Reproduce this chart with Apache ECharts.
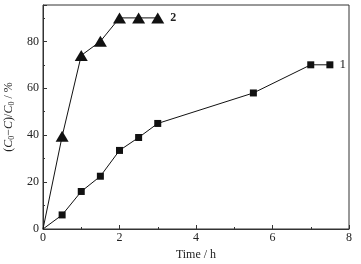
<!DOCTYPE html>
<html>
<head>
<meta charset="utf-8">
<script src="https://cdn.jsdelivr.net/npm/echarts@6/dist/echarts.min.js"></script>
<style>
html,body{margin:0;padding:0;background:#fff}
#chart{width:361px;height:264px}
</style>
</head>
<body>
<div id="chart"></div>
<script>
// curve 1 (squares)
var time1 = [0, 0.5, 1, 1.5, 2, 2.5, 3, 5.5, 7, 7.5];
var conv1 = [0, 6, 16, 22.5, 33.5, 39, 45, 58, 70, 70];
// curve 2 (triangles)
var time2 = [0, 0.5, 1, 1.5, 2, 2.5, 3];
var conv2 = [0, 39.5, 74, 80, 90, 90, 90];
var seriesNames = ['1', '2'];

var font = 'Liberation Serif';
var ink = '#222';

function pairs(xs, ys, name) {
    return xs.map(function (x, i) {
        var p = {value: [x, ys[i]]};
        if (i == 0) {
            p.symbol = 'none';
        }
        if (i == xs.length - 1) {
            p.label = {show: true, formatter: name};
        }
        return p;
    });
}

var option = {
    animation: false,
    grid: {
        left: 43, right: 12, top: 5, bottom: 35,
        outerBoundsMode: 'none', containLabel: false,
        show: true, borderColor: '#333', borderWidth: 1
    },
    xAxis: {
        type: 'value', min: 0, max: 8, interval: 2,
        name: 'Time / h', nameLocation: 'middle', nameGap: 19,
        nameTextStyle: {fontFamily: font, fontSize: 12, color: ink},
        axisLine: {lineStyle: {color: '#333'}},
        axisTick: {inside: true, length: 4, lineStyle: {color: '#333'}},
        minorTick: {show: true, splitNumber: 2, length: 2, lineStyle: {color: '#333'}},
        axisLabel: {fontFamily: font, fontSize: 12, color: ink, margin: 3},
        splitLine: {show: false}
    },
    yAxis: {
        type: 'value', min: 0, max: 95.5, interval: 20,
        name: '({i|C}{s|0}\u2212{i|C})/{i|C}{s|0} / %',
        nameLocation: 'middle', nameGap: 24,
        nameTextStyle: {
            fontFamily: font, fontSize: 12, color: ink,
            rich: {
                i: {fontFamily: font, fontSize: 12, fontStyle: 'italic', color: ink},
                s: {fontFamily: font, fontSize: 8, color: ink, padding: [6, 0, 0, 0]}
            }
        },
        axisLine: {lineStyle: {color: '#333'}},
        axisTick: {inside: true, length: 4, lineStyle: {color: '#333'}},
        minorTick: {show: true, splitNumber: 2, length: 2, lineStyle: {color: '#333'}},
        axisLabel: {fontFamily: font, fontSize: 12, color: ink, margin: 4, showMaxLabel: false},
        splitLine: {show: false}
    },
    series: [
        {
            name: seriesNames[0], type: 'line',
            data: pairs(time1, conv1, seriesNames[0]),
            symbol: 'rect', symbolSize: 7,
            lineStyle: {color: '#111', width: 1},
            itemStyle: {color: '#111'},
            label: {position: 'right', distance: 6, fontFamily: font, fontSize: 13, color: ink}
        },
        {
            name: seriesNames[1], type: 'line',
            data: pairs(time2, conv2, seriesNames[1]),
            symbol: 'triangle', symbolSize: [13, 11],
            lineStyle: {color: '#111', width: 1},
            itemStyle: {color: '#111'},
            label: {position: 'right', distance: 6, fontFamily: font, fontSize: 12, fontWeight: 'bold', color: ink}
        }
    ]
};

var chart = echarts.init(document.getElementById('chart'));
chart.setOption(option);
</script>
</body>
</html>
